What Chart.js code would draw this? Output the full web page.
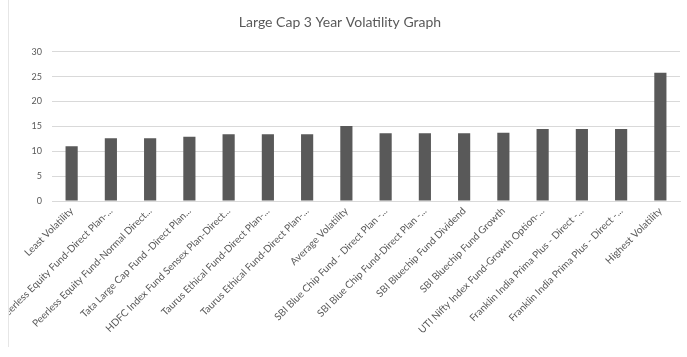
<!DOCTYPE html>
<html>
<head>
<meta charset="utf-8">
<script src="https://cdn.jsdelivr.net/npm/chart.js@4/dist/chart.umd.min.js"></script>
<style>
html,body{margin:0;padding:0;background:#fff;}
#wrap{width:687px;height:357px;position:relative;}
</style>
</head>
<body>
<div id="wrap"><canvas id="c" width="687" height="357"></canvas></div>
<script>
const categories = [
  "Least Volatility",
  "Peerless Equity Fund-Direct Plan-...",
  "Peerless Equity Fund-Normal Direct...",
  "Tata Large Cap Fund -Direct Plan...",
  "HDFC Index Fund Sensex Plan-Direct...",
  "Taurus Ethical Fund-Direct Plan-...",
  "Taurus Ethical Fund-Direct Plan-...",
  "Average Volatility",
  "SBI Blue Chip Fund - Direct Plan -...",
  "SBI Blue Chip Fund-Direct Plan -...",
  "SBI Bluechip Fund Dividend",
  "SBI Bluechip Fund Growth",
  "UTI Nifty Index Fund-Growth Option-...",
  "Franklin India Prima Plus - Direct -...",
  "Franklin India Prima Plus - Direct -...",
  "Highest Volatility"
];
const volatility = [11.0, 12.6, 12.6, 12.9, 13.4, 13.4, 13.4, 15.1, 13.6, 13.6, 13.6, 13.7, 14.5, 14.5, 14.5, 25.8];
const yTicks = [0, 5, 10, 15, 20, 25, 30];

const borderPlugin = {
  id: 'border',
  afterDraw(chart) {
    const ctx = chart.ctx;
    ctx.save();
    ctx.fillStyle = '#fff';
    ctx.fillRect(0, 0, 8, 357);
    ctx.strokeStyle = '#e6e6e6';
    ctx.lineWidth = 1;
    ctx.beginPath();
    ctx.moveTo(8.5, 0);
    ctx.lineTo(8.5, 347);
    ctx.stroke();
    ctx.restore();
  }
};

new Chart(document.getElementById('c'), {
  type: 'bar',
  data: {
    labels: categories,
    datasets: [{
      data: volatility,
      backgroundColor: '#595959',
      categoryPercentage: 1.0,
      barPercentage: 0.31
    }]
  },
  options: {
    responsive: false,
    animation: false,
    events: [],
    layout: { padding: { left: 0, right: 7, top: 0, bottom: 0 } },
    plugins: {
      legend: { display: false },
      tooltip: { enabled: false },
      title: {
        display: true,
        text: 'Large Cap 3 Year Volatility Graph',
        color: '#595959',
        font: { family: 'Lato', size: 14, weight: 'normal' },
        padding: { top: 14, bottom: 21 }
      }
    },
    scales: {
      x: {
        grid: { display: false, drawTicks: false },
        border: { display: true, color: '#d9d9d9' },
        ticks: {
          color: '#595959',
          font: { family: 'Lato', size: 10 },
          minRotation: 45,
          maxRotation: 45,
          autoSkip: false,
          padding: 4
        },
        afterFit(scale) {
          scale.height = 156;
          scale.paddingLeft = 0;
          scale.paddingRight = 0;
        }
      },
      y: {
        min: 0,
        max: 30,
        afterBuildTicks(scale) {
          scale.ticks = yTicks.map(v => ({ value: v }));
        },
        grid: { color: '#d9d9d9', drawTicks: false },
        border: { display: false },
        ticks: {
          color: '#595959',
          font: { family: 'Lato', size: 9 },
          padding: 10
        },
        afterFit(scale) {
          scale.width = 52;
          scale.paddingTop = 0;
          scale.paddingBottom = 0;
        }
      }
    }
  },
  plugins: [borderPlugin]
});
</script>
</body>
</html>
